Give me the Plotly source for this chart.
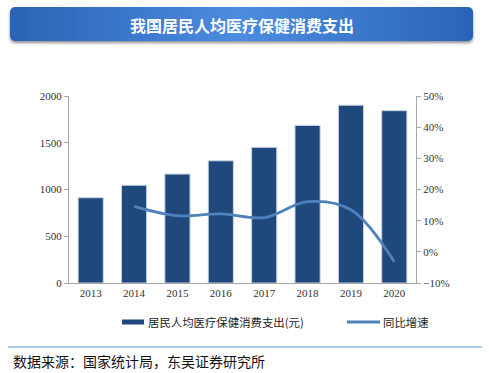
import base64
import plotly.graph_objects as go

years = ["2013", "2014", "2015", "2016", "2017", "2018", "2019", "2020"]
spending = [912, 1045, 1165, 1307, 1451, 1685, 1902, 1843]
growth_years = ["2014", "2015", "2016", "2017", "2018", "2019", "2020"]
growth = [0.146, 0.116, 0.122, 0.110, 0.161, 0.135, -0.032]

bar_name = "居民人均医疗保健消费支出(元)"
line_name = "同比增速"
title_text = "我国居民人均医疗保健消费支出"
source_text = "数据来源：国家统计局，东吴证券研究所"

W, H = 489, 373
L, R, T, B = 69, 416, 96, 283

BAR_COLOR = "#1F497D"
LINE_COLOR = "#4F81BD"


def px(x):
    return (x - L) / (R - L)


def py(y):
    return (B - y) / (B - T)


svg = """<svg xmlns='http://www.w3.org/2000/svg' width='470' height='42' viewBox='0 0 470 42'>
<defs>
<linearGradient id='g' x1='0' y1='0' x2='1' y2='0'>
<stop offset='0' stop-color='#2A62B4'/>
<stop offset='0.5' stop-color='#4C8CE0'/>
<stop offset='1' stop-color='#2A63B6'/>
</linearGradient>
<filter id='s' x='-5%' y='-30%' width='110%' height='170%'>
<feGaussianBlur in='SourceAlpha' stdDeviation='1.6'/>
<feOffset dx='0' dy='2' result='b'/>
<feComponentTransfer><feFuncA type='linear' slope='0.45'/></feComponentTransfer>
<feMerge><feMergeNode/><feMergeNode in='SourceGraphic'/></feMerge>
</filter>
</defs>
<rect x='3' y='3' width='463' height='34' rx='5' ry='5' fill='url(#g)' filter='url(#s)'/>
</svg>"""
svg_uri = "data:image/svg+xml;base64," + base64.b64encode(svg.encode()).decode()

fig = go.Figure()
fig.add_trace(go.Bar(
    x=years, y=spending, name=bar_name, showlegend=False,
    marker=dict(color=BAR_COLOR, line=dict(color="#C9D3E0", width=1)),
    yaxis="y",
))
fig.add_trace(go.Scatter(
    x=growth_years, y=growth, name=line_name, mode="lines", showlegend=False,
    line=dict(color=LINE_COLOR, width=2.8, shape="spline", smoothing=1.0),
    yaxis="y2",
))

tick_font = dict(family="Liberation Serif", size=11, color="#333333")
legend_font = dict(family="Noto Sans CJK SC", size=11.4, color="#222222")

fig.update_layout(
    width=W, height=H,
    margin=dict(l=L, r=W - R, t=T, b=H - B),
    paper_bgcolor="white", plot_bgcolor="white",
    bargap=0.42,
    font=dict(family="Liberation Serif", size=11, color="#333333"),
    xaxis=dict(
        showline=True, linecolor="#A6A6A6", linewidth=1.3, ticks="",
        showgrid=False, tickfont=tick_font,
    ),
    yaxis=dict(
        range=[0, 2000], dtick=500, showgrid=False, zeroline=False,
        showline=True, linecolor="#A6A6A6", linewidth=1.3,
        ticks="outside", ticklen=4, tickcolor="#A6A6A6", tickfont=tick_font,
    ),
    yaxis2=dict(
        range=[-0.1, 0.5], dtick=0.1, tickformat=".0%", overlaying="y", side="right",
        showgrid=False, zeroline=False,
        showline=True, linecolor="#A6A6A6", linewidth=1.3,
        ticks="outside", ticklen=4, tickcolor="#A6A6A6", tickfont=tick_font,
    ),
    images=[dict(
        source=svg_uri, xref="paper", yref="paper",
        x=px(7), y=py(4), sizex=px(477) - px(7), sizey=py(4) - py(46),
        xanchor="left", yanchor="top", sizing="stretch", layer="below",
    )],
    shapes=[
        dict(type="line", xref="paper", yref="paper",
             x0=px(8), x1=px(482), y0=py(347), y1=py(347),
             line=dict(color="#5B9BD5", width=1.2)),
        dict(type="rect", xref="paper", yref="paper",
             x0=px(122), x1=px(144), y0=py(319.5), y1=py(324.5),
             fillcolor=BAR_COLOR, line=dict(width=0)),
        dict(type="line", xref="paper", yref="paper",
             x0=px(347), x1=px(380), y0=py(322), y1=py(322),
             line=dict(color=LINE_COLOR, width=2.8)),
    ],
    annotations=[
        dict(text="<b>" + title_text + "</b>", xref="paper", yref="paper",
             x=px(242), y=py(25), xanchor="center", yanchor="middle", showarrow=False,
             font=dict(family="Noto Sans CJK SC", size=16, color="white")),
        dict(text=source_text, xref="paper", yref="paper",
             x=px(11), y=py(361), xanchor="left", yanchor="middle", showarrow=False,
             font=dict(family="Noto Sans CJK SC", size=14, color="#111111")),
        dict(text=bar_name, xref="paper", yref="paper",
             x=px(146), y=py(322), xanchor="left", yanchor="middle", showarrow=False,
             font=legend_font),
        dict(text=line_name, xref="paper", yref="paper",
             x=px(381), y=py(322), xanchor="left", yanchor="middle", showarrow=False,
             font=legend_font),
    ],
)

fig.write_html(
    "out.html",
    config={"displayModeBar": False},
    post_script="document.body.style.margin='0';document.body.style.padding='0';",
)
